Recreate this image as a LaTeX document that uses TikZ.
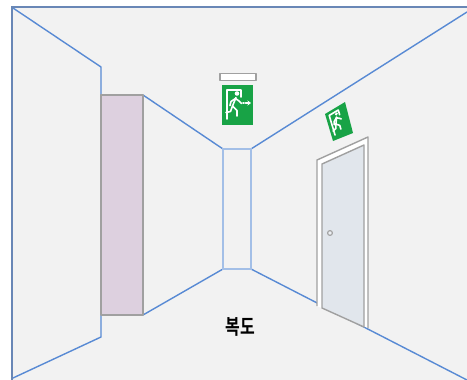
\documentclass[tikz,border=0pt]{standalone}
\usepackage{fontspec}
\newfontfamily\krfont{Noto Sans CJK KR Bold}
\usetikzlibrary{arrows.meta}
\definecolor{wallblue}{RGB}{88,138,212}
\definecolor{frameblue}{RGB}{105,135,182}
\definecolor{floorgray}{RGB}{242,242,242}
\definecolor{pillarpink}{RGB}{221,208,223}
\definecolor{edgegray}{RGB}{160,160,160}
\definecolor{doorfill}{RGB}{225,230,236}
\definecolor{exitgreen}{RGB}{24,163,70}
\tikzset{
  wall/.style={draw=wallblue, line width=1.4pt, line join=round},
  farwall/.style={draw=wallblue!55, line width=1.2pt},
  border/.style={draw=frameblue, line width=2.6pt},
  graybox/.style={draw=edgegray, line width=1.4pt, line join=round},
  figline/.style={draw=white, line width=1.6pt, line cap=round, line join=round},
}
% running figure of an exit sign, drawn in a 31 x 40 box
\newcommand\exitfigure[1]{%
  \draw[figline] (5,34) -- (5,5) -- (19,5) -- (19,12);
  \fill[white] (15,8.5) circle (2.3);
  \draw[figline] (14,12.5) -- (10.5,21);
  \draw[figline] (13.5,13.5) -- (9,16.5) -- (8,20.5);
  \draw[figline] (13.5,13.5) -- (17,16) -- (19.5,18.5);
  \draw[figline] (10.5,21) -- (15,25.5) -- (15,31);
  \draw[figline] (10.5,21) -- (8.5,26.5) -- (4,27.5);
  #1}
\begin{document}
\begin{tikzpicture}[x=1pt,y=-1pt]
  \useasboundingbox (0,0) rectangle (467,380);
  \fill[white] (0,0) rectangle (467,380);
  % room surface
  \fill[floorgray] (12,7) rectangle (470,383);

  % corridor edges
  \draw[wall] (13,8) -- (101,67) -- (101,337) -- (13,378);
  \draw[wall] (143,95) -- (223,149);
  \draw[wall] (143,315) -- (223,269);
  \draw[wall] (251,149) -- (467,12);
  \draw[wall] (251,269) -- (467,380);
  % far end of the corridor
  \draw[farwall] (223,149) rectangle (251,269);

  % pillar on the left wall
  \filldraw[graybox, fill=pillarpink] (101,95) rectangle (143,315);

  % door on the right wall
  \filldraw[graybox, fill=white] (317,306) -- (317,160) -- (368,137) -- (368,328);
  \filldraw[graybox, fill=doorfill] (322,308) -- (322,164) -- (364,145) -- (364,327) -- cycle;
  \filldraw[draw=edgegray, line width=1.1pt, fill=doorfill!60] (330,233) circle (2.4);

  % ceiling exit sign
  \filldraw[graybox, fill=white] (220,73.5) rectangle (256,80.5);
  \fill[exitgreen] (222,85) rectangle (253,125);
  \begin{scope}[shift={(222,85)}]
    \exitfigure{%
      \draw[figline] (21,18) -- (22,18);
      \draw[figline, -{Stealth[length=3.5pt,width=5pt]}] (23.5,18) -- (29,18);}
  \end{scope}

  % exit sign above the door
  \fill[exitgreen] (325,114) -- (345,102) -- (353,133) -- (333,141) -- cycle;
  \begin{scope}[shift={(325,114)}, x={(0.645pt,0.387pt)}, y={(0.2pt,-0.675pt)}]
    \exitfigure{}
  \end{scope}

  % room frame
  \draw[border] (12,381) -- (12,7) -- (468,7);

  \node[font=\krfont\fontsize{16}{16}\selectfont, yscale=1.3] (corridor) at (240,327) {복도};
\end{tikzpicture}
\end{document}
